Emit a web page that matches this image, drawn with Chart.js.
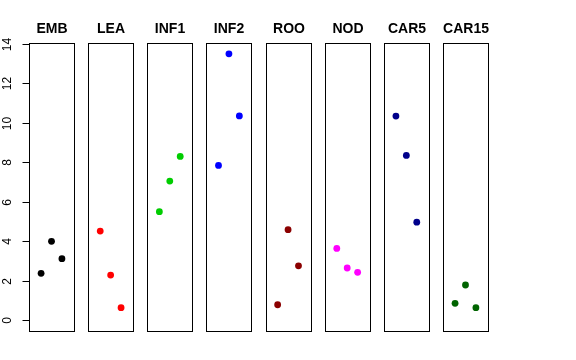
<!DOCTYPE html>
<html>
<head>
<meta charset="utf-8">
<script src="https://cdn.jsdelivr.net/npm/chart.js@4/dist/chart.umd.min.js"></script>
<style>
    body { margin: 0; background: #fff; }
    canvas { display: block; }
</style>
</head>
<body>
<canvas id="stripChart" width="576" height="360"></canvas>
<script>
// panel names and point colours, one per panel
const panels = ['EMB', 'LEA', 'INF1', 'INF2', 'ROO', 'NOD', 'CAR5', 'CAR15'];
const colors = ['#000000', '#FF0000', '#00CD00', '#0000FF', '#8B0000', '#FF00FF', '#00008B', '#006400'];

// three values per panel (left to right)
const emb   = [2.38, 4.00, 3.12];
const lea   = [4.52, 2.29, 0.64];
const inf1  = [5.50, 7.05, 8.30];
const inf2  = [7.84, 13.49, 10.35];
const roo   = [0.79, 4.59, 2.76];
const nod   = [3.64, 2.65, 2.43];
const car5  = [10.34, 8.35, 4.97];
const car15 = [0.86, 1.79, 0.64];

const seriesValues = [emb, lea, inf1, inf2, roo, nod, car5, car15];
const xPositions   = [1, 2, 3];
const yTicks       = [0, 2, 4, 6, 8, 10, 12, 14];

// each panel spans x in [0, 4] (+4% like R), y in [0, 13.5] (+4%)
const panelStep = 5.675;
const xLo  = -0.16;
const xHi  = 4.16;
const yLo  = -0.54;
const yHi  = 14.04;

const datasets = panels.map((name, i) => ({
    label          : name,
    data           : seriesValues[i].map((v, j) => ({ x: i * panelStep + xPositions[j], y: v })),
    backgroundColor: colors[i],
    borderColor    : colors[i],
    pointRadius    : 3.4,
    pointHoverRadius: 3.4,
    borderWidth    : 0
}));

const panelFrames = {
    id: 'panelFrames',
    beforeDatasetsDraw(chart) {
        const ctx = chart.ctx;
        const xs  = chart.scales.x;
        const ys  = chart.scales.y;
        const top    = chart.chartArea.top;
        const bottom = chart.chartArea.bottom;
        ctx.save();
        ctx.strokeStyle = '#000';
        ctx.lineWidth   = 1;
        let firstLeft = 0;
        panels.forEach((name, i) => {
            const left  = Math.round(xs.getPixelForValue(i * panelStep + xLo)) + 0.5;
            const right = Math.round(xs.getPixelForValue(i * panelStep + xHi)) + 0.5;
            if (i === 0) firstLeft = left;
            ctx.strokeRect(left, Math.round(top) + 0.5, right - left, Math.round(bottom - top));

            ctx.fillStyle    = '#000';
            ctx.font         = 'bold 14px "Liberation Sans", Arial, sans-serif';
            ctx.textAlign    = 'center';
            ctx.textBaseline = 'middle';
            ctx.fillText(name, (left + right) / 2, 29);
        });

        // y axis on the first panel, labels parallel to the axis
        ctx.beginPath();
        ctx.moveTo(firstLeft, Math.round(ys.getPixelForValue(yTicks[0])) + 0.5);
        ctx.lineTo(firstLeft, Math.round(ys.getPixelForValue(yTicks[yTicks.length - 1])) + 0.5);
        ctx.stroke();
        ctx.font = '12px "Liberation Sans", Arial, sans-serif';
        yTicks.forEach(t => {
            const py = Math.round(ys.getPixelForValue(t)) + 0.5;
            ctx.beginPath();
            ctx.moveTo(firstLeft - 7, py);
            ctx.lineTo(firstLeft, py);
            ctx.stroke();
            ctx.save();
            ctx.translate(firstLeft - 21.5, py);
            ctx.rotate(-Math.PI / 2);
            ctx.textAlign    = 'center';
            ctx.textBaseline = 'middle';
            ctx.fillText(String(t), 0, 0);
            ctx.restore();
        });
        ctx.restore();
    }
};

new Chart(document.getElementById('stripChart'), {
    type: 'scatter',
    data: { datasets: datasets },
    options: {
        responsive: false,
        animation : false,
        layout    : { padding: { left: 29, right: 88, top: 43, bottom: 29 } },
        plugins   : {
            legend : { display: false },
            tooltip: { enabled: false }
        },
        scales: {
            x: { type: 'linear', min: xLo, max: 7 * panelStep + xHi, display: false },
            y: { type: 'linear', min: yLo, max: yHi, display: false }
        }
    },
    plugins: [panelFrames]
});
</script>
</body>
</html>
